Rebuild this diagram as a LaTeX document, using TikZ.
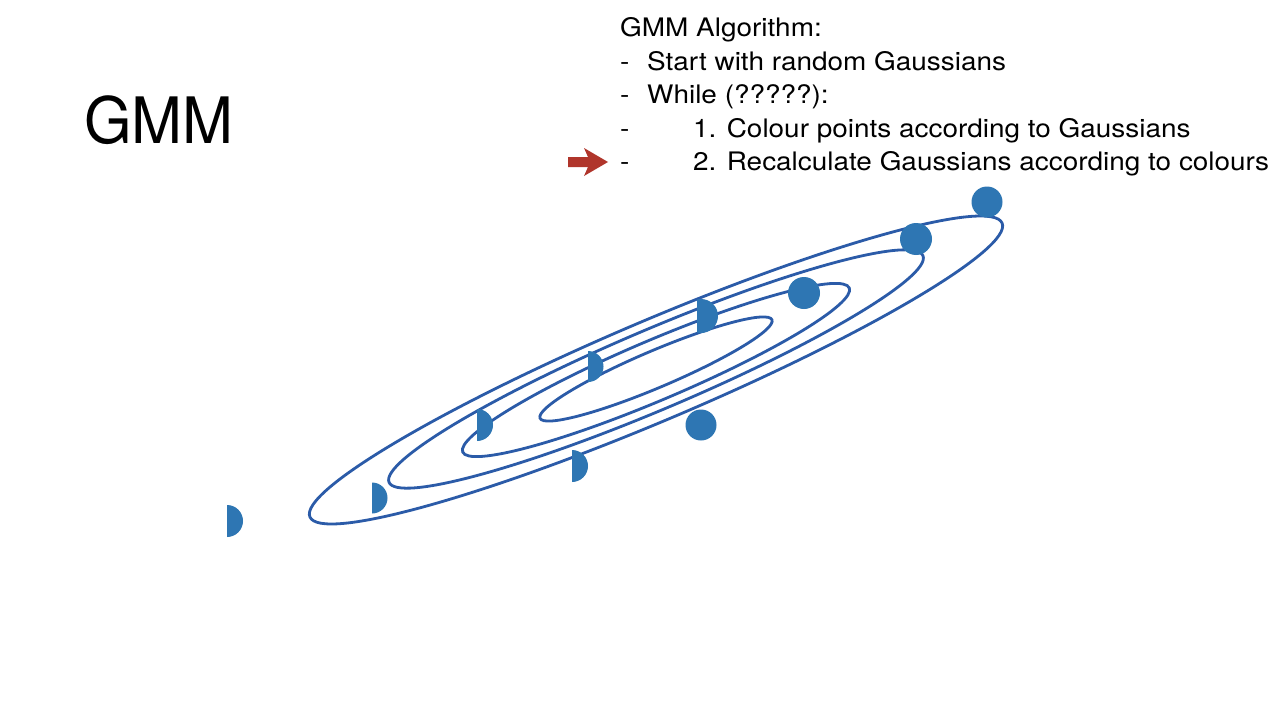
\documentclass[tikz,border=0pt]{standalone}
\usepackage{fontspec}
\usepackage{graphicx}
\setmainfont{TeX Gyre Heros}
\definecolor{ellblue}{HTML}{2B5BA8}
\definecolor{dotblue}{HTML}{2E76B3}
\definecolor{arrred}{HTML}{B0352B}
\newcommand{\wtxt}[1]{\scalebox{1.095}[1]{#1}}
\begin{document}
\begin{tikzpicture}[x=1pt,y=-1pt,
  txt/.style={anchor=base west,inner sep=0pt,font=\fontsize{25.5}{30}\selectfont},
  contour/.style={draw=ellblue,line width=2.8pt},
  dot/.style={fill=dotblue}]
\useasboundingbox (0,0) rectangle (1280,720);
\fill[white] (0,0) rectangle (1280,720);
% title
\node[anchor=base west,inner sep=0pt,font=\fontsize{64}{70}\selectfont] (title) at (84,143) {\scalebox{0.955}[1]{GMM}};
% algorithm text
\node[txt] (l1) at (620,36.5) {\wtxt{GMM Algorithm:}};
\node[txt] (d2) at (620,70) {\wtxt{-}};
\node[txt] (l2) at (647,70) {\wtxt{Start with random Gaussians}};
\node[txt] (d3) at (620,103.5) {\wtxt{-}};
\node[txt] (l3) at (647,103.5) {\wtxt{While (?????):}};
\node[txt] (d4) at (620,137) {\wtxt{-}};
\node[txt] (l4) at (693,137) {\wtxt{1. Colour points according to Gaussians}};
\node[txt] (d5) at (620,170.3) {\wtxt{-}};
\node[txt] (l5) at (693,170.3) {\wtxt{2. Recalculate Gaussians according to colours}};
% red arrow
\fill[arrred] (568,157) -- (588,157) -- (584,148) -- (608,162) -- (584,176) -- (588,167) -- (568,167) -- cycle;
% contours
\draw[contour,rotate around={23:(656,370)}] (656,370) ellipse [x radius=376pt, y radius=50pt];
\draw[contour,rotate around={23:(656,369)}] (656,369) ellipse [x radius=290pt, y radius=40pt];
\draw[contour,rotate around={23:(656,370)}] (656,370) ellipse [x radius=210pt, y radius=30pt];
\draw[contour,rotate around={23:(656,369)}] (656,369) ellipse [x radius=126pt, y radius=18.4pt];
% full points
\fill[dot] (987,202) circle [radius=15.5pt];
\fill[dot] (916,239) circle [radius=16pt];
\fill[dot] (804,293) circle [radius=16pt];
\fill[dot] (701,425) circle [radius=15.5pt];
% partial points
\begin{scope}\clip (227,490) rectangle (260,550); \fill[dot] (227,521) circle [radius=16pt];\end{scope}
\begin{scope}\clip (372,470) rectangle (400,530); \fill[dot] (372,498) circle [radius=15.5pt];\end{scope}
\begin{scope}\clip (477,400) rectangle (510,450); \fill[dot] (477,425) circle [radius=16pt];\end{scope}
\begin{scope}\clip (572,440) rectangle (600,490); \fill[dot] (572,466) circle [radius=16pt];\end{scope}
\begin{scope}\clip (588,340) rectangle (620,390); \fill[dot] (588,366.5) circle [radius=15.5pt];\end{scope}
\begin{scope}\clip (697,290) rectangle (730,345); \fill[dot] (701,316) circle [radius=17pt];\end{scope}
\end{tikzpicture}
\end{document}
